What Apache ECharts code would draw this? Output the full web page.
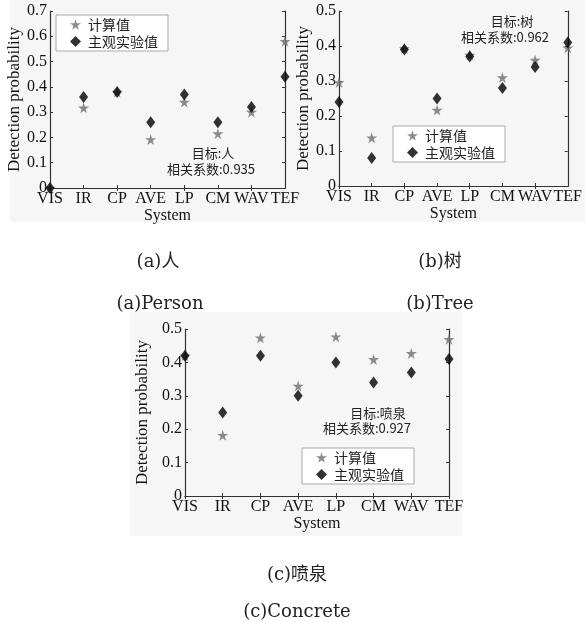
<!DOCTYPE html>
<html>
<head>
<meta charset="utf-8">
<script src="https://cdn.jsdelivr.net/npm/echarts@6/dist/echarts.min.js"></script>
<style>
  html, body { margin: 0; padding: 0; background: #fff; }
  #main { width: 585px; height: 622px; }
</style>
</head>
<body>
<div id="main"></div>
<script>
var categories = ['VIS', 'IR', 'CP', 'AVE', 'LP', 'CM', 'WAV', 'TEF'];

// (a) 人 / Person
var personCalc = [0, 0.317, 0.38, 0.192, 0.34, 0.215, 0.30, 0.58];
var personExp  = [0, 0.36, 0.38, 0.26, 0.37, 0.26, 0.32, 0.44];
// (b) 树 / Tree
var treeCalc = [0.296, 0.138, 0.393, 0.217, 0.374, 0.31, 0.36, 0.395];
var treeExp  = [0.24, 0.08, 0.39, 0.25, 0.37, 0.28, 0.34, 0.41];
// (c) 喷泉 / Concrete
var fountainCalc = [0.42, 0.182, 0.474, 0.329, 0.477, 0.409, 0.427, 0.469];
var fountainExp  = [0.42, 0.25, 0.42, 0.30, 0.40, 0.34, 0.37, 0.41];

var yMax = [0.7, 0.5, 0.5];

var calcName = '计算值';
var expName = '主观实验值';
var starPath = 'path://M50,0 L61,35 L98,35 L68,57 L79,91 L50,70 L21,91 L32,57 L2,35 L39,35 Z';

var serif = '"Liberation Serif", "Noto Sans CJK SC", serif';
var capFont = '"DejaVu Serif", "Noto Sans CJK SC", serif';
var cjk = '"Noto Sans CJK SC", "Liberation Serif", sans-serif';

var grids = [
  { left: 50, top: 11, width: 235, height: 177 },
  { left: 339, top: 11, width: 236, height: 175 },
  { left: 185, top: 329, width: 264, height: 167 }
];
var yNameGap = [25, 25, 34];

var xAxes = [], yAxes = [];
grids.forEach(function (g, i) {
  // bottom axis with labels
  xAxes.push({
    type: 'category', gridIndex: i, data: categories, boundaryGap: false,
    position: 'bottom',
    name: 'System', nameLocation: 'middle', nameGap: 17,
    nameTextStyle: { fontFamily: serif, fontSize: 16, color: '#111' },
    axisLine: { lineStyle: { color: '#333', width: 1.2 } },
    axisTick: { inside: true, length: 3, lineStyle: { color: '#333' } },
    axisLabel: { fontFamily: serif, fontSize: 16, color: '#111', margin: 3, interval: 0 },
    splitLine: { show: false }
  });
  // top frame
  xAxes.push({
    type: 'category', gridIndex: i, data: categories, boundaryGap: false,
    position: 'top',
    axisLine: { lineStyle: { color: '#333', width: 1.2 } },
    axisTick: { inside: true, length: 3, lineStyle: { color: '#333' } },
    axisLabel: { show: false },
    splitLine: { show: false }
  });
  yAxes.push({
    type: 'value', gridIndex: i, min: 0, max: yMax[i], interval: 0.1,
    position: 'left',
    name: 'Detection probability', nameLocation: 'middle', nameGap: yNameGap[i],
    nameTextStyle: { fontFamily: serif, fontSize: 17, color: '#111' },
    axisLine: { show: true, lineStyle: { color: '#333', width: 1.2 } },
    axisTick: { show: true, inside: true, length: 3, lineStyle: { color: '#333' } },
    axisLabel: { fontFamily: serif, fontSize: 16, color: '#111', margin: 3 },
    splitLine: { show: false }
  });
  yAxes.push({
    type: 'value', gridIndex: i, min: 0, max: yMax[i], interval: 0.1,
    position: 'right',
    axisLine: { show: true, lineStyle: { color: '#333', width: 1.2 } },
    axisTick: { show: true, inside: true, length: 3, lineStyle: { color: '#333' } },
    axisLabel: { show: false },
    splitLine: { show: false }
  });
});

var seriesData = [
  [personCalc, personExp],
  [treeCalc, treeExp],
  [fountainCalc, fountainExp]
];

var series = [];
seriesData.forEach(function (pair, i) {
  series.push({
    name: calcName, type: 'scatter', xAxisIndex: i * 2, yAxisIndex: i * 2,
    symbol: starPath, symbolSize: 11, clip: false,
    itemStyle: { color: '#6f6f6f' },
    data: pair[0]
  });
  series.push({
    name: expName, type: 'scatter', xAxisIndex: i * 2, yAxisIndex: i * 2,
    symbol: 'diamond', symbolSize: [9, 12], clip: false,
    itemStyle: { color: '#000' },
    data: pair[1]
  });
});

function makeLegend(left, top) {
  return {
    orient: 'vertical', left: left, top: top,
    data: [
      { name: calcName, icon: starPath },
      { name: expName, icon: 'diamond' }
    ],
    itemWidth: 11, itemHeight: 11, itemGap: 2,
    padding: [2, 10, 2, 14],
    borderColor: '#aaa', borderWidth: 1, backgroundColor: '#fff',
    selectedMode: false,
    textStyle: { fontFamily: cjk, fontSize: 14, lineHeight: 15, color: '#222', padding: [0, 0, 0, 2] }
  };
}

function note(x, y, text) {
  return { type: 'text', x: x, y: y, z: 10,
    style: { text: text, fontFamily: cjk, fontSize: 13, fill: '#222', align: 'center' } };
}
function caption(x, y, text) {
  return { type: 'text', x: x, y: y,
    style: { text: text, fontFamily: capFont, fontSize: 18, fill: '#222', align: 'center' } };
}

var option = {
  animation: false,
  backgroundColor: '#fff',
  grid: grids,
  xAxis: xAxes,
  yAxis: yAxes,
  legend: [
    makeLegend(56, 15),
    makeLegend(393, 126),
    makeLegend(302, 448)
  ],
  series: series,
  graphic: [
    { type: 'rect', shape: { x: 10, y: 0, width: 575, height: 222 }, style: { fill: '#f6f6f6' }, z: -10, silent: true },
    { type: 'rect', shape: { x: 130, y: 312, width: 332, height: 224 }, style: { fill: '#f6f6f6' }, z: -10, silent: true },
    note(213, 147, '目标:人'),
    note(211, 163, '相关系数:0.935'),
    note(512, 15, '目标:树'),
    note(505, 31, '相关系数:0.962'),
    note(378, 407, '目标:喷泉'),
    note(367, 422, '相关系数:0.927'),
    caption(158, 253, '(a)人'),
    caption(160, 295, '(a)Person'),
    caption(440, 253, '(b)树'),
    caption(440, 295, '(b)Tree'),
    caption(297, 566, '(c)喷泉'),
    caption(297, 603, '(c)Concrete')
  ]
};

var myChart = echarts.init(document.getElementById('main'));
myChart.setOption(option);
</script>
</body>
</html>
